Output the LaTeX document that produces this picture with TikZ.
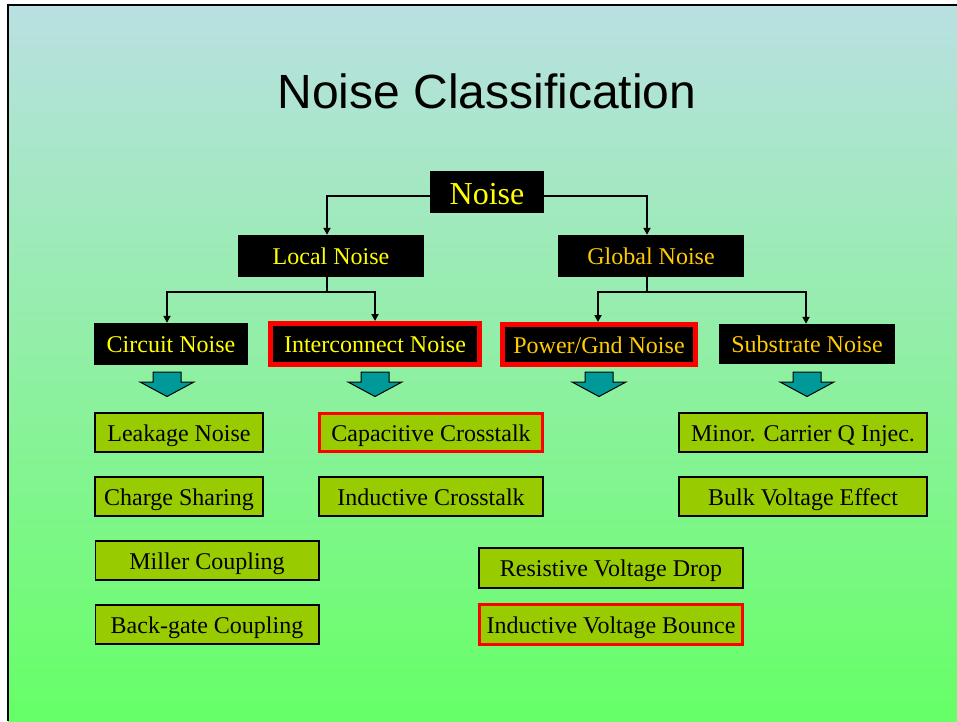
\documentclass[tikz,border=0pt]{standalone}
\usepackage{fontspec}
\setmainfont{Liberation Serif}
\newfontfamily\arialfont{Liberation Sans}
\usetikzlibrary{arrows.meta}
\definecolor{bgtop}{RGB}{185,224,226}
\definecolor{bgbot}{RGB}{102,255,102}
\definecolor{boxgreen}{RGB}{153,204,0}
\definecolor{tealfill}{RGB}{0,153,153}
\definecolor{goldtxt}{RGB}{255,204,0}
\definecolor{yeltxt}{RGB}{255,255,0}
\begin{document}
\begin{tikzpicture}[x=1pt,y=-1pt,
  lbl/.style={font=\fontsize{24}{28}\selectfont, text height=19pt, text depth=2pt},
  blk/.style={lbl, fill=black, inner sep=0pt, text=yeltxt},
  blkred/.style={blk, draw=red, line width=5pt},
  gbox/.style={lbl, fill=boxgreen, draw=black, line width=1.6pt, inner sep=0pt,
    text=black, minimum height=39.4pt},
  gred/.style={gbox, draw=red, line width=3pt},
  conn/.style={line width=2pt, -{Triangle[width=7pt,length=7pt]}},
  tarrow/.pic={\draw[fill=tealfill, line width=1pt, line join=miter]
     (-14,0) -- (14,0) -- (14,10) -- (27,10) -- (0,24.5) -- (-27,10) -- (-14,10) -- cycle;}
]
\useasboundingbox (0,0) rectangle (957,721);
\fill[white] (0,0) rectangle (957,721);
\shade[top color=bgtop, bottom color=bgbot] (8,5) rectangle (957,721);
\draw[line width=2.5pt] (8,721) -- (8,5) -- (957,5);

\node[font=\arialfont\fontsize{48}{56}\selectfont, anchor=base] (title) at (487,108) {Noise Classification};

\node[blk, font=\fontsize{32}{36}\selectfont, text height=26pt, text depth=2pt, minimum width=114pt, minimum height=42pt] (noise) at (487,192) {Noise};
\node[blk, minimum width=186pt, minimum height=42pt] (local) at (331,256) {Local Noise};
\node[blk, text=goldtxt, minimum width=186pt, minimum height=42pt] (global) at (651,256) {Global Noise};
\node[blk, minimum width=154pt, minimum height=42pt] (circuit) at (171,344) {Circuit Noise};
\node[blkred, minimum width=209pt, minimum height=41pt] (inter) at (375,344) {Interconnect Noise};
\node[blkred, text=goldtxt, minimum width=193pt, minimum height=40pt] (power) at (599,344.5) {Power/Gnd Noise};
\node[blk, text=goldtxt, minimum width=176pt, minimum height=40pt] (subs) at (807,344) {Substrate Noise};

\coordinate (lj) at (327,292);
\coordinate (gj) at (647,292);
\draw[conn] ([yshift=-4pt]noise.west) -| ([xshift=-4pt]local.north);
\draw[conn] ([yshift=-4pt]noise.east) -| ([xshift=-4pt]global.north);
\draw[line width=2pt] (local.south -| lj) -- (lj);
\draw[line width=2pt] (global.south -| gj) -- (gj);
\draw[conn] (lj) -| ([xshift=-4pt]circuit.north);
\draw[conn] (lj) -| (inter.north);
\draw[conn] (gj) -| ([xshift=-1pt]power.north);
\draw[conn] (gj) -| ([xshift=-1pt]subs.north);

\pic at (167,372) {tarrow};
\pic at (375,372) {tarrow};
\pic at (599,372) {tarrow};
\pic at (807,372) {tarrow};

\node[gbox, minimum width=168.4pt] (leak) at (179,432.5) {Leakage Noise};
\node[gbox, minimum width=168.4pt] (charge) at (179,496.5) {Charge Sharing};
\node[gbox, minimum width=223.4pt] (miller) at (207,560.5) {Miller Coupling};
\node[gbox, minimum width=223.4pt] (backgate) at (207,624.5) {Back-gate Coupling};
\node[gred, minimum width=223pt, minimum height=38pt] (capac) at (431,432.5) {Capacitive Crosstalk};
\node[gbox, minimum width=224.4pt] (induc) at (431,496.5) {Inductive Crosstalk};
\node[gbox, minimum width=264.4pt, minimum height=40.4pt] (resist) at (611,568) {Resistive Voltage Drop};
\node[gred, minimum width=263pt, minimum height=40pt] (bounce) at (611,624.5) {Inductive Voltage Bounce};
\node[gbox, minimum width=248.4pt] (minor) at (803,432.5) {Minor. Carrier Q Injec.};
\node[gbox, minimum width=248.4pt] (bulk) at (803,496.5) {Bulk Voltage Effect};
\end{tikzpicture}
\end{document}
